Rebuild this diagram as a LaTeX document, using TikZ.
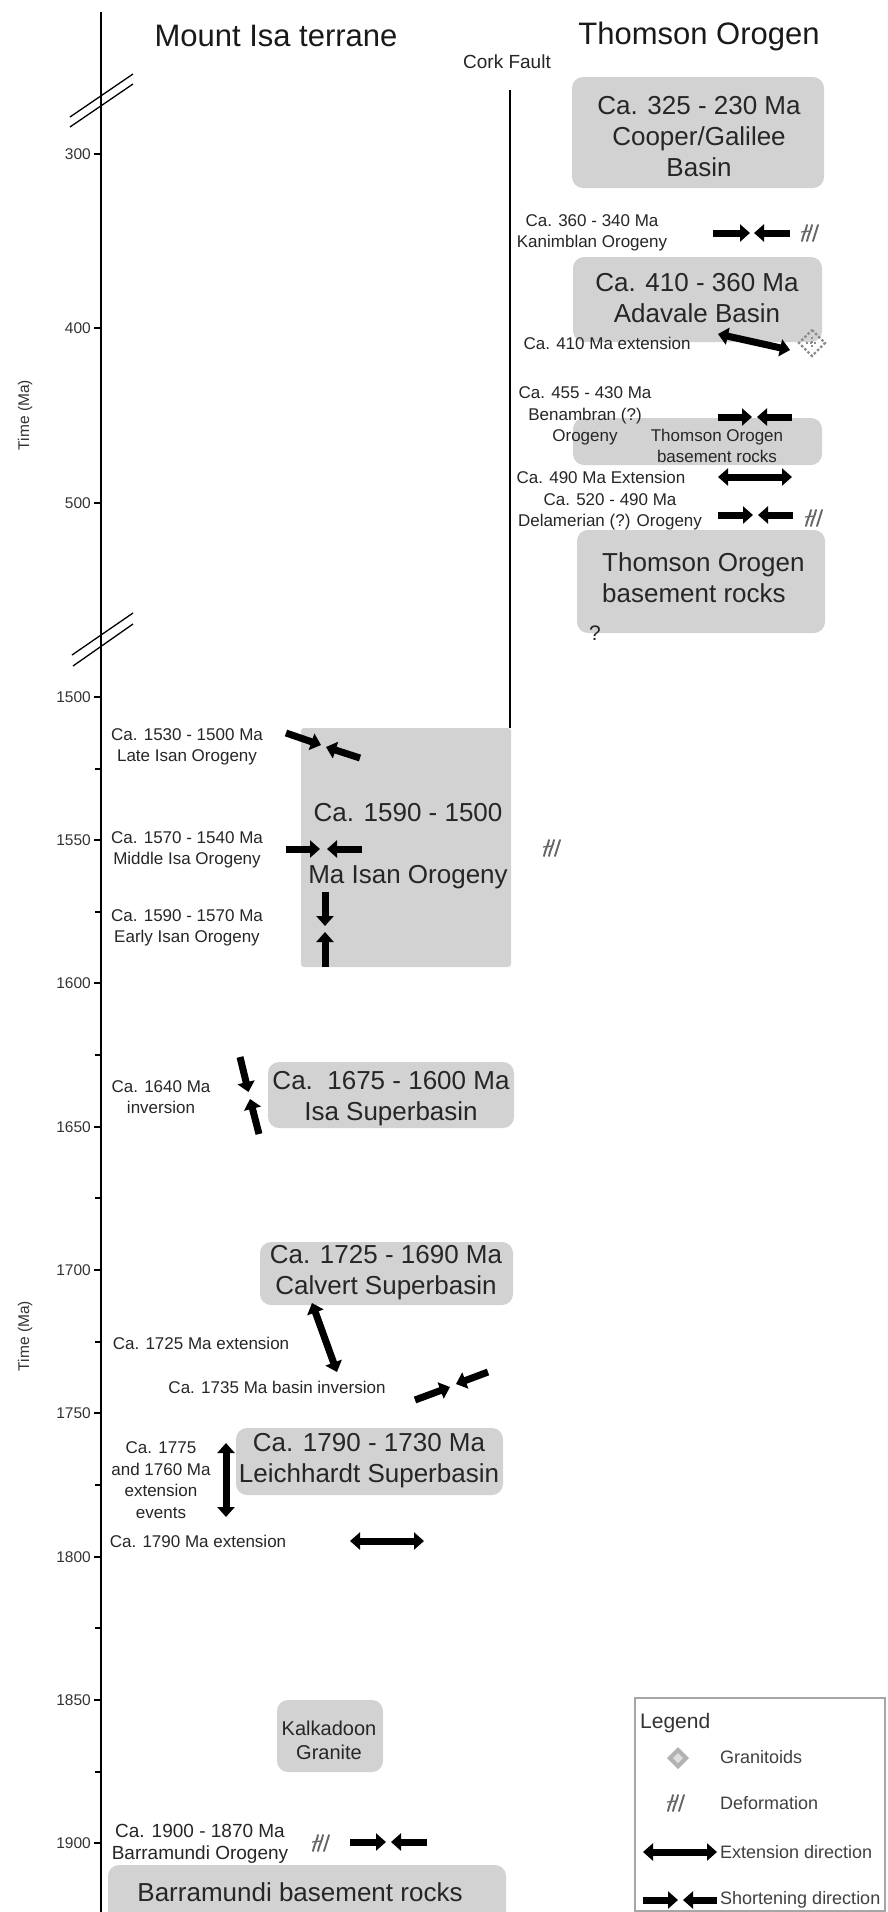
\documentclass[tikz,border=0pt]{standalone}
\usepackage{fontspec}
\setmainfont{Liberation Sans}
\usetikzlibrary{arrows.meta}
\newcommand\fLab{\fontsize{17}{21.5}\selectfont}
\newcommand\fBarr{\fontsize{19}{22.5}\selectfont}
\newcommand\fBox{\fontsize{26}{31}\selectfont}
\newcommand\fTtl{\fontsize{31}{36}\selectfont}
\newcommand\fTck{\fontsize{15.5}{18}\selectfont}
\newcommand\fLeg{\fontsize{18}{22}\selectfont}
\begin{document}
\begin{tikzpicture}[x=1pt,y=-1pt,
  lab/.style={font=\fLab, align=center, inner sep=0pt, text=black!85},
  boxtxt/.style={font=\fBox, align=center, inner sep=0pt, text=black!85},
  ttl/.style={font=\fTtl, inner sep=0pt, text=black!90},
  tck/.style={font=\fTck, inner sep=0pt, text=black!80, anchor=east},
  legt/.style={font=\fLeg, inner sep=0pt, text=black!75, anchor=west},
  gbox/.style={fill=gray!35, rounded corners=11pt},
  sarrow/.style={line width=7pt, -{Triangle[length=10pt,width=17pt]}, black},
  earrow/.style={line width=7pt, {Triangle[length=10pt,width=17pt]}-{Triangle[length=10pt,width=17pt]}, black},
  axisline/.style={line width=2.5pt, black},
  tickline/.style={line width=1.5pt, black},
  breakline/.style={line width=1.3pt, black},
  defo/.pic={
    \draw[line width=1.9pt, black!60, line cap=round]
      (-8,8) .. controls (-7,2) and (-4,-2) .. (-3,-8)
      (-3,8) .. controls (-2,2) and (1,-2) .. (2,-8)
      (3,8) -- (8,-8);
    \draw[line width=1.2pt, black!60] (-9,-1) -- (0,-2);
  },
  granit/.pic={
    \fill[gray!60] (0,-11) -- (11,0) -- (0,11) -- (-11,0) -- cycle;
    \fill[gray!25] (0,-5) -- (5,0) -- (0,5) -- (-5,0) -- cycle;
  },
  granitdot/.pic={
    \draw[black!45, line width=2.4pt, dash pattern=on 2.5pt off 2pt] (0,-13) -- (13,0) -- (0,13) -- (-13,0) -- cycle;
    \draw[black!45, line width=2.2pt, dash pattern=on 2pt off 2pt] (0,-6) -- (0,6) (-6,0) -- (6,0);
  }
]
\useasboundingbox (0,0) rectangle (887,1912);
\fill[white] (0,0) rectangle (887,1912);

% ---------- gray boxes ----------
\fill[gbox] (572,77) rectangle (824,188);
\fill[gbox] (573,257) rectangle (822,342);
\fill[gbox] (573,418) rectangle (822,465);
\fill[gbox] (577,530) rectangle (825,633);
\fill[gray!35, rounded corners=3pt] (301,728) rectangle (511,967);
\fill[gbox] (268,1062) rectangle (514,1128);
\fill[gbox] (260,1242) rectangle (513,1305);
\fill[gbox] (236,1428) rectangle (503,1495);
\fill[gbox] (277,1700) rectangle (383,1772);
\fill[gbox] (108,1865) rectangle (506,1930);

% ---------- axis ----------
\draw[axisline] (101,12) -- (101,1912);
\foreach \v/\y in {300/154,400/328,500/503,1500/697,1550/840,1600/983,1650/1127,1700/1270,1750/1413,1800/1557,1850/1700,1900/1843}{
  \draw[tickline] (94,\y) -- (101,\y);
  \node[tck] (t\v) at (91,\y) {\v};
}
\foreach \y in {769,912,1055,1198,1342,1485,1628,1772}{
  \draw[tickline] (95,\y) -- (101,\y);
}
% breaks
\draw[breakline] (70,117) -- (133,74);
\draw[breakline] (70,127) -- (133,84);
\draw[breakline] (72,655) -- (133,613);
\draw[breakline] (73,666) -- (133,624);

\node[font=\fTck, rotate=90, inner sep=0pt, text=black!80] (time1) at (25,415) {Time (Ma)};
\node[font=\fTck, rotate=90, inner sep=0pt, text=black!80] (time2) at (25,1336) {Time (Ma)};

% ---------- titles ----------
\node[ttl] (mit) at (276,36) {Mount Isa terrane};
\node[ttl] (tho) at (699,36) {Thomson Orogen};
\node[font=\fontsize{19}{22}\selectfont, inner sep=0pt, text=black!85] (cork) at (507,62) {Cork Fault};
\draw[line width=2pt, black] (510,90) -- (510,728);

% ---------- Thomson Orogen side ----------
\node[boxtxt] (cooper) at (699,137) {Ca. 325 - 230 Ma\\Cooper/Galilee\\Basin};
\node[lab] (kan) at (592,233) {Ca. 360 - 340 Ma\\Kanimblan Orogeny};
\draw[sarrow] (713,233) -- (750,233);
\draw[sarrow] (790,233) -- (754,233);
\pic at (810,233) {defo};

\node[boxtxt] (adavale) at (697,298) {Ca. 410 - 360 Ma\\Adavale Basin};
\node[lab] (e410) at (607,343) {Ca. 410 Ma extension};
\draw[earrow] (718,334) -- (790,350);
\pic at (812,343) {granitdot};

\node[lab] (benam) at (585,416) {Ca. 455 - 430 Ma\\Benambran (?)\\Orogeny};
\node[lab] (thob1) at (717,446) {Thomson Orogen\\basement rocks};
\draw[sarrow] (718,417) -- (752,417);
\draw[sarrow] (792,417) -- (757,417);

\node[lab] (e490) at (601,477) {Ca. 490 Ma Extension};
\draw[earrow] (718,477) -- (792,477);

\node[lab] (delam) at (610,512) {Ca. 520 - 490 Ma\\Delamerian (?) Orogeny};
\draw[sarrow] (718,515) -- (753,515);
\draw[sarrow] (793,515) -- (758,515);
\pic at (814,518) {defo};

\node[boxtxt, align=left, anchor=west] (thob2) at (602,578) {Thomson Orogen\\basement rocks};
\node[font=\fontsize{21}{24}\selectfont, inner sep=0pt, text=black!85] (qm) at (595,633) {?};

% ---------- Mount Isa side ----------
\node[lab] (lisan) at (187,747) {Ca. 1530 - 1500 Ma\\Late Isan Orogeny};
\draw[sarrow] (286,733) -- (321,745);
\draw[sarrow] (360,758) -- (326,747);

\node[boxtxt] (isan1) at (408,813) {Ca. 1590 - 1500};
\node[boxtxt] (isan2) at (408,877) {Ma Isan Orogeny};

\node[lab] (misan) at (187,850) {Ca. 1570 - 1540 Ma\\Middle Isa Orogeny};
\draw[sarrow] (286,849) -- (320,849);
\draw[sarrow] (362,849) -- (327,849);
\pic at (552,848) {defo};

\node[lab] (eisan) at (187,928) {Ca. 1590 - 1570 Ma\\Early Isan Orogeny};
\draw[sarrow] (325,892) -- (325,926);
\draw[sarrow] (325,967) -- (325,932);

\node[lab] (i1640) at (161,1097) {Ca. 1640 Ma\\inversion};
\draw[sarrow] (240,1057) -- (248.5,1092);
\draw[sarrow] (259,1134) -- (250,1099);
\node[boxtxt] (isa) at (391,1099) {Ca.\ \ 1675 - 1600 Ma\\Isa Superbasin};

\node[boxtxt] (calv) at (386,1273) {Ca. 1725 - 1690 Ma\\Calvert Superbasin};
\node[lab] (e1725) at (201,1343) {Ca. 1725 Ma extension};
\draw[earrow] (312,1303) -- (337,1372);
\node[lab] (i1735) at (277,1387) {Ca. 1735 Ma basin inversion};
\draw[sarrow] (415,1400) -- (450,1387);
\draw[sarrow] (488,1372) -- (456,1384);

\node[boxtxt] (leich) at (369,1461) {Ca. 1790 - 1730 Ma\\Leichhardt Superbasin};
\node[lab] (e1775) at (161,1480) {Ca. 1775\\and 1760 Ma\\extension\\events};
\draw[earrow] (226,1443) -- (226,1517);
\node[lab] (e1790) at (198,1541) {Ca. 1790 Ma extension};
\draw[earrow] (350,1541) -- (424,1541);

\node[font=\fontsize{20}{24}\selectfont, align=center, inner sep=0pt, text=black!85] (kalk) at (329,1740) {Kalkadoon\\Granite};

\node[lab, font=\fBarr] (barr) at (200,1844) {Ca. 1900 - 1870 Ma\\Barramundi Orogeny};
\pic at (321,1843) {defo};
\draw[sarrow] (350,1842) -- (386,1842);
\draw[sarrow] (427,1842) -- (391,1842);
\node[boxtxt] (barrb) at (300,1892) {Barramundi basement rocks};

% ---------- legend ----------
\draw[gray!70, line width=1.5pt] (635,1698) rectangle (885,1911);
\node[font=\fontsize{21}{25}\selectfont, inner sep=0pt, text=black!80, anchor=west] (legt) at (640,1723) {Legend};
\pic at (678,1758) {granit};
\node[legt] (lg1) at (720,1757) {Granitoids};
\pic at (676,1803) {defo};
\node[legt] (lg2) at (720,1803) {Deformation};
\draw[earrow] (643,1852) -- (717,1852);
\node[legt] (lg3) at (720,1852) {Extension direction};
\draw[sarrow] (643,1900) -- (678,1900);
\draw[sarrow] (717,1900) -- (683,1900);
\node[legt] (lg4) at (720,1900) {Shortening direction};
\end{tikzpicture}
\end{document}
